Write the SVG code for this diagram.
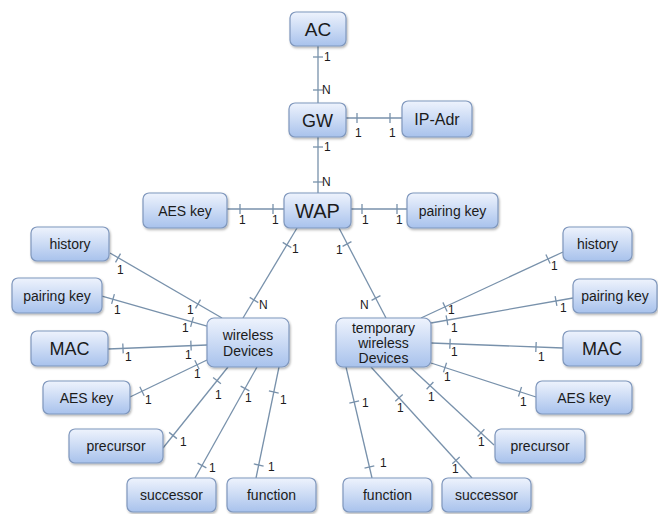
<svg xmlns="http://www.w3.org/2000/svg" xmlns:xlink="http://www.w3.org/1999/xlink" width="658" height="514" viewBox="0 0 658 514">
<style>
.c line,.c use{stroke:#7891ab;stroke-width:1.3;fill:none}
.n rect{fill:url(#g);stroke:#7f97bd;stroke-width:1.2;filter:url(#sh)}
text{font-family:"Liberation Sans",Arial,sans-serif;fill:#1b1b1b}
.n text{text-anchor:middle;font-size:14px}
.l{font-size:12px}
</style>
<defs>
<linearGradient id="g" x1="0" y1="0" x2="0" y2="1">
<stop offset="0" stop-color="#eef3fd"/>
<stop offset="1" stop-color="#a8c2ec"/>
</linearGradient>
<filter id="sh" x="-20%" y="-20%" width="140%" height="150%">
<feDropShadow dx="1" dy="1.5" stdDeviation="1" flood-color="#000" flood-opacity="0.3"/>
</filter>
<line id="tk" x1="0" y1="-5" x2="0" y2="5"/>
</defs>
<rect width="658" height="514" fill="#fff"/>
<g id="connectors" class="c">
<line x1="318" y1="46" x2="318" y2="103"/>
<use xlink:href="#tk" transform="translate(318,57) rotate(90)"/>
<use xlink:href="#tk" transform="translate(318,90) rotate(90)"/>
<line x1="318" y1="137" x2="318" y2="193"/>
<use xlink:href="#tk" transform="translate(318,147) rotate(90)"/>
<use xlink:href="#tk" transform="translate(318,182) rotate(90)"/>
<line x1="346" y1="118" x2="402" y2="118"/>
<use xlink:href="#tk" transform="translate(357,118)"/>
<use xlink:href="#tk" transform="translate(390,118)"/>
<line x1="227" y1="209" x2="284" y2="209"/>
<use xlink:href="#tk" transform="translate(240,209)"/>
<use xlink:href="#tk" transform="translate(273,209)"/>
<line x1="351" y1="209" x2="407" y2="209"/>
<use xlink:href="#tk" transform="translate(362,209)"/>
<use xlink:href="#tk" transform="translate(397,209)"/>
<line x1="297" y1="228" x2="243" y2="318"/>
<use xlink:href="#tk" transform="translate(287,245) rotate(121)"/>
<use xlink:href="#tk" transform="translate(254,300) rotate(121)"/>
<line x1="339" y1="228" x2="386" y2="318"/>
<use xlink:href="#tk" transform="translate(347,244) rotate(62.4)"/>
<use xlink:href="#tk" transform="translate(376,298) rotate(62.4)"/>
<line x1="110" y1="253" x2="222" y2="318"/>
<use xlink:href="#tk" transform="translate(118,258) rotate(30)"/>
<use xlink:href="#tk" transform="translate(198,304) rotate(30)"/>
<line x1="102" y1="296" x2="207" y2="326"/>
<use xlink:href="#tk" transform="translate(113,299) rotate(16)"/>
<use xlink:href="#tk" transform="translate(192,322) rotate(16)"/>
<line x1="108" y1="349" x2="207" y2="345"/>
<use xlink:href="#tk" transform="translate(123,348.4) rotate(-2.3)"/>
<use xlink:href="#tk" transform="translate(191,345.6) rotate(-2.3)"/>
<line x1="130" y1="397" x2="207" y2="360"/>
<use xlink:href="#tk" transform="translate(142,391.2) rotate(-25.7)"/>
<use xlink:href="#tk" transform="translate(197,364.8) rotate(-25.7)"/>
<line x1="163" y1="448" x2="228" y2="367"/>
<use xlink:href="#tk" transform="translate(173,435.5) rotate(-51.3)"/>
<use xlink:href="#tk" transform="translate(217,380.7) rotate(-51.3)"/>
<line x1="195" y1="478" x2="257" y2="367"/>
<use xlink:href="#tk" transform="translate(202,465.5) rotate(-60.8)"/>
<use xlink:href="#tk" transform="translate(245,388.5) rotate(-60.8)"/>
<line x1="256" y1="478" x2="279" y2="367"/>
<use xlink:href="#tk" transform="translate(258.7,465) rotate(-78.3)"/>
<use xlink:href="#tk" transform="translate(273.8,392) rotate(-78.3)"/>
<line x1="563" y1="252" x2="421" y2="318"/>
<use xlink:href="#tk" transform="translate(548,259) rotate(155.1)"/>
<use xlink:href="#tk" transform="translate(445,306.9) rotate(155.1)"/>
<line x1="573" y1="298" x2="431" y2="323"/>
<use xlink:href="#tk" transform="translate(556,301) rotate(170)"/>
<use xlink:href="#tk" transform="translate(447,320.2) rotate(170)"/>
<line x1="563" y1="348" x2="431" y2="343"/>
<use xlink:href="#tk" transform="translate(536,347) rotate(182.2)"/>
<use xlink:href="#tk" transform="translate(450,343.7) rotate(182.2)"/>
<line x1="536" y1="397" x2="431" y2="363"/>
<use xlink:href="#tk" transform="translate(520,391.8) rotate(198)"/>
<use xlink:href="#tk" transform="translate(445,367.5) rotate(198)"/>
<line x1="494" y1="445" x2="410" y2="367"/>
<use xlink:href="#tk" transform="translate(481,432.9) rotate(222.9)"/>
<use xlink:href="#tk" transform="translate(430,385.6) rotate(222.9)"/>
<line x1="472" y1="478" x2="371" y2="367"/>
<use xlink:href="#tk" transform="translate(456,460.4) rotate(227.7)"/>
<use xlink:href="#tk" transform="translate(399,397.8) rotate(227.7)"/>
<line x1="372" y1="478" x2="346" y2="367"/>
<use xlink:href="#tk" transform="translate(369.4,467) rotate(256.8)"/>
<use xlink:href="#tk" transform="translate(354.2,402) rotate(256.8)"/>
</g>
<g id="labels" class="l">
<text x="324" y="61">1</text>
<text x="322" y="94">N</text>
<text x="324" y="151">1</text>
<text x="322" y="186">N</text>
<text x="355" y="137">1</text>
<text x="389" y="137">1</text>
<text x="239" y="224">1</text>
<text x="272" y="224">1</text>
<text x="362" y="224">1</text>
<text x="396" y="224">1</text>
<text x="292" y="253">1</text>
<text x="259" y="309">N</text>
<text x="336" y="254">1</text>
<text x="360" y="309">N</text>
<text x="117" y="274">1</text>
<text x="187" y="314">1</text>
<text x="114" y="314">1</text>
<text x="182" y="332">1</text>
<text x="125" y="361">1</text>
<text x="185" y="359">1</text>
<text x="145" y="404">1</text>
<text x="194" y="378">1</text>
<text x="180" y="446">1</text>
<text x="215" y="399">1</text>
<text x="209" y="472">1</text>
<text x="245" y="402">1</text>
<text x="268" y="471">1</text>
<text x="280" y="404">1</text>
<text x="551" y="270">1</text>
<text x="448" y="314">1</text>
<text x="560" y="312">1</text>
<text x="451" y="332">1</text>
<text x="538" y="361">1</text>
<text x="451" y="356">1</text>
<text x="520" y="406">1</text>
<text x="444" y="381">1</text>
<text x="478" y="446">1</text>
<text x="428" y="401">1</text>
<text x="452" y="473">1</text>
<text x="397" y="412">1</text>
<text x="380" y="467">1</text>
<text x="362" y="407">1</text>
</g>
<g id="AC" class="n"><rect x="290" y="12" width="56" height="34" rx="6"/><text x="318" y="36" style="font-size:19px">AC</text></g>
<g id="GW" class="n"><rect x="289" y="103" width="57" height="34" rx="6"/><text x="317.5" y="126.5" style="font-size:18px">GW</text></g>
<g id="IP-Adr" class="n"><rect x="402" y="101" width="70" height="36" rx="6"/><text x="437" y="124.5" style="font-size:16px">IP-Adr</text></g>
<g id="WAP" class="n"><rect x="284" y="193" width="67" height="35" rx="6"/><text x="317.5" y="217.5" style="font-size:20px">WAP</text></g>
<g id="AES-key-top" class="n"><rect x="143" y="193" width="84" height="35" rx="6"/><text x="185" y="215.5">AES key</text></g>
<g id="pairing-key-top" class="n"><rect x="407" y="193" width="91" height="35" rx="6"/><text x="452.5" y="215.5">pairing key</text></g>
<g id="wireless-devices" class="n"><rect x="207" y="318" width="82" height="49" rx="7"/><text x="248" y="340">wireless</text><text x="248" y="356">Devices</text></g>
<g id="temporary-wireless-devices" class="n"><rect x="336" y="318" width="95" height="49" rx="7"/><text x="383.5" y="333">temporary</text><text x="383.5" y="348">wireless</text><text x="383.5" y="363">Devices</text></g>
<g id="history-left" class="n"><rect x="31" y="227" width="78" height="34" rx="6"/><text x="70" y="249">history</text></g>
<g id="pairing-key-left" class="n"><rect x="12" y="278" width="90" height="35" rx="6"/><text x="57" y="300.5">pairing key</text></g>
<g id="MAC-left" class="n"><rect x="31" y="331" width="77" height="35" rx="6"/><text x="69.5" y="355" style="font-size:18px">MAC</text></g>
<g id="AES-key-left" class="n"><rect x="43" y="381" width="87" height="33" rx="6"/><text x="86.5" y="402.5">AES key</text></g>
<g id="precursor-left" class="n"><rect x="69" y="429" width="94" height="34" rx="6"/><text x="116" y="451">precursor</text></g>
<g id="successor-left" class="n"><rect x="127" y="478" width="89" height="34" rx="6"/><text x="171.5" y="500">successor</text></g>
<g id="function-left" class="n"><rect x="227" y="478" width="89" height="34" rx="6"/><text x="271.5" y="500">function</text></g>
<g id="history-right" class="n"><rect x="563" y="227" width="69" height="34" rx="6"/><text x="597.5" y="249">history</text></g>
<g id="pairing-key-right" class="n"><rect x="573" y="279" width="84" height="34" rx="6"/><text x="615" y="301">pairing key</text></g>
<g id="MAC-right" class="n"><rect x="563" y="331" width="78" height="35" rx="6"/><text x="602" y="355" style="font-size:18px">MAC</text></g>
<g id="AES-key-right" class="n"><rect x="536" y="381" width="96" height="33" rx="6"/><text x="584" y="402.5">AES key</text></g>
<g id="precursor-right" class="n"><rect x="495" y="429" width="90" height="34" rx="6"/><text x="540" y="451">precursor</text></g>
<g id="function-right" class="n"><rect x="343" y="478" width="89" height="34" rx="6"/><text x="387.5" y="500">function</text></g>
<g id="successor-right" class="n"><rect x="442" y="478" width="89" height="34" rx="6"/><text x="486.5" y="500">successor</text></g>
</svg>
